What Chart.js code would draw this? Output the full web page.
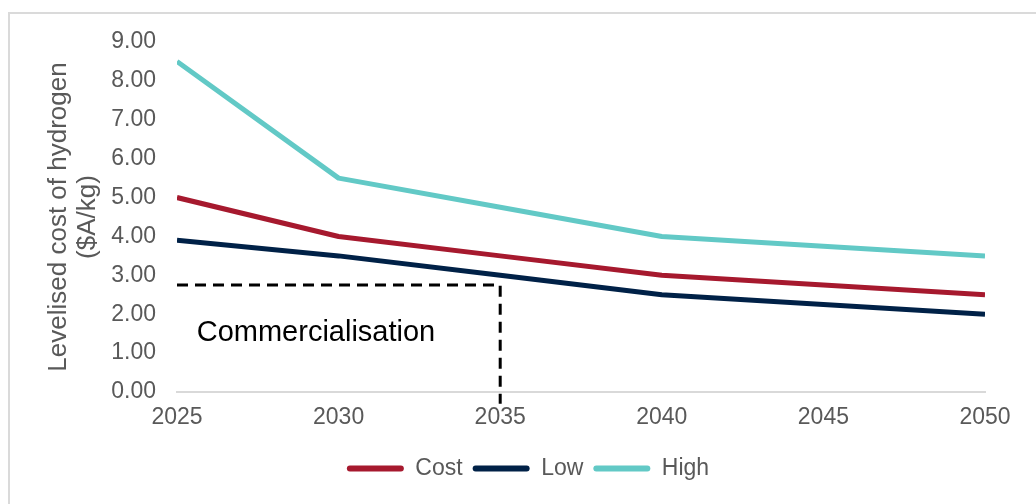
<!DOCTYPE html>
<html>
<head>
<meta charset="utf-8">
<script src="https://cdn.jsdelivr.net/npm/chart.js@4/dist/chart.umd.min.js"></script>
<style>
  html, body { margin: 0; padding: 0; background: #ffffff; }
  #wrap { position: relative; width: 1036px; height: 504px; overflow: hidden; }
  #frame { position: absolute; left: 8px; top: 12px; width: 1100px; height: 600px;
           border-left: 2px solid #dadada; border-top: 2px solid #dadada; }
  canvas { position: absolute; left: 0; top: 0; }
</style>
</head>
<body>
<div id="wrap">
  <div id="frame"></div>
  <canvas id="c" width="1036" height="504"></canvas>
</div>
<script>
// ---- data ----
const years = [2025, 2030, 2035, 2040, 2045, 2050];
const costValues = [5.0, 4.0, 3.5, 3.0, 2.75, 2.5];
const lowValues  = [3.9, 3.5, 3.0, 2.5, 2.25, 2.0];
const highValues = [8.5, 5.5, 4.75, 4.0, 3.75, 3.5];
const seriesNames = ['Cost', 'Low', 'High'];
const commercialX = [2025, 2035, 2035];
const commercialY = [2.75, 2.75, -0.3];
const commercialLabel = 'Commercialisation';
const commercialLabelAt = [2029.3, 1.53];
const yTitle = ['Levelised cost of hydrogen', '($A/kg)'];

const toPts = (xs, ys) => xs.map((x, i) => ({ x: x, y: ys[i] }));

const textPlugin = {
  id: 'commercialText',
  afterUpdate(chart) {
    const lg = chart.legend;
    if (lg) {
      lg.left += 25; lg.right += 25;
      lg.adjustHitBoxes();
    }
  },
  afterDatasetsDraw(chart) {
    const { ctx, scales } = chart;
    const x = scales.x.getPixelForValue(commercialLabelAt[0]);
    const y = scales.y.getPixelForValue(commercialLabelAt[1]);
    ctx.save();
    ctx.font = '29px "Liberation Sans", Arial, sans-serif';
    ctx.fillStyle = '#000000';
    ctx.textAlign = 'center';
    ctx.textBaseline = 'middle';
    ctx.fillText(commercialLabel, x, y);
    ctx.restore();
  }
};

const lineStyle = (color) => ({
  borderColor: color, backgroundColor: color, borderWidth: 5,
  pointRadius: 0, pointHoverRadius: 0, tension: 0, fill: false,
  borderJoinStyle: 'round'
});

new Chart(document.getElementById('c'), {
  type: 'line',
  data: {
    datasets: [
      Object.assign({ label: seriesNames[0], data: toPts(years, costValues) }, lineStyle('#a6192e')),
      Object.assign({ label: seriesNames[1], data: toPts(years, lowValues) }, lineStyle('#002147')),
      Object.assign({ label: seriesNames[2], data: toPts(years, highValues) }, lineStyle('#62c9c6')),
      {
        label: 'commercialisation', data: toPts(commercialX, commercialY),
        borderColor: '#000000', borderWidth: 3, borderDash: [11, 7],
        pointRadius: 0, tension: 0, fill: false, clip: false
      }
    ]
  },
  options: {
    responsive: false,
    animation: false,
    events: [],
    layout: { padding: { left: 21, right: 51, top: 42, bottom: 14 } },
    font: { family: '"Liberation Sans", Arial, sans-serif' },
    scales: {
      x: {
        type: 'linear', min: 2025, max: 2050,
        grid: { display: false, drawTicks: false },
        border: { display: true, color: '#d9d9d9', width: 2 },
        ticks: { stepSize: 5, padding: 12, color: '#595959',
                 font: { size: 23, family: '"Liberation Sans", Arial, sans-serif' },
                 callback: v => String(v), maxRotation: 0 },
        afterFit: s => { s.height = 55; }
      },
      y: {
        min: 0, max: 9,
        grid: { display: false, drawTicks: false },
        border: { display: false },
        ticks: { stepSize: 1, padding: 21, color: '#595959',
                 font: { size: 23, family: '"Liberation Sans", Arial, sans-serif' },
                 callback: v => Number(v).toFixed(2) },
        title: { display: true, text: yTitle, color: '#595959',
                 font: { size: 26, family: '"Liberation Sans", Arial, sans-serif', lineHeight: 1.12 },
                 padding: { top: 23, bottom: 0 } },
        afterFit: s => { s.width = 156; }
      }
    },
    plugins: {
      tooltip: { enabled: false },
      legend: {
        position: 'bottom',
        labels: {
          color: '#595959',
          font: { size: 23, family: '"Liberation Sans", Arial, sans-serif' },
          boxWidth: 57, boxHeight: 6, padding: 10,
          useBorderRadius: true, borderRadius: 3,
          filter: item => seriesNames.includes(item.text),
          generateLabels: chart => {
            const items = Chart.defaults.plugins.legend.labels.generateLabels(chart);
            items.forEach(it => {
              const ds = chart.data.datasets[it.datasetIndex];
              it.fillStyle = ds.borderColor;
              it.strokeStyle = ds.borderColor;
              it.lineWidth = 0;
              it.lineDash = [];
            });
            return items;
          }
        }
      }
    }
  },
  plugins: [textPlugin]
});
</script>
</body>
</html>
